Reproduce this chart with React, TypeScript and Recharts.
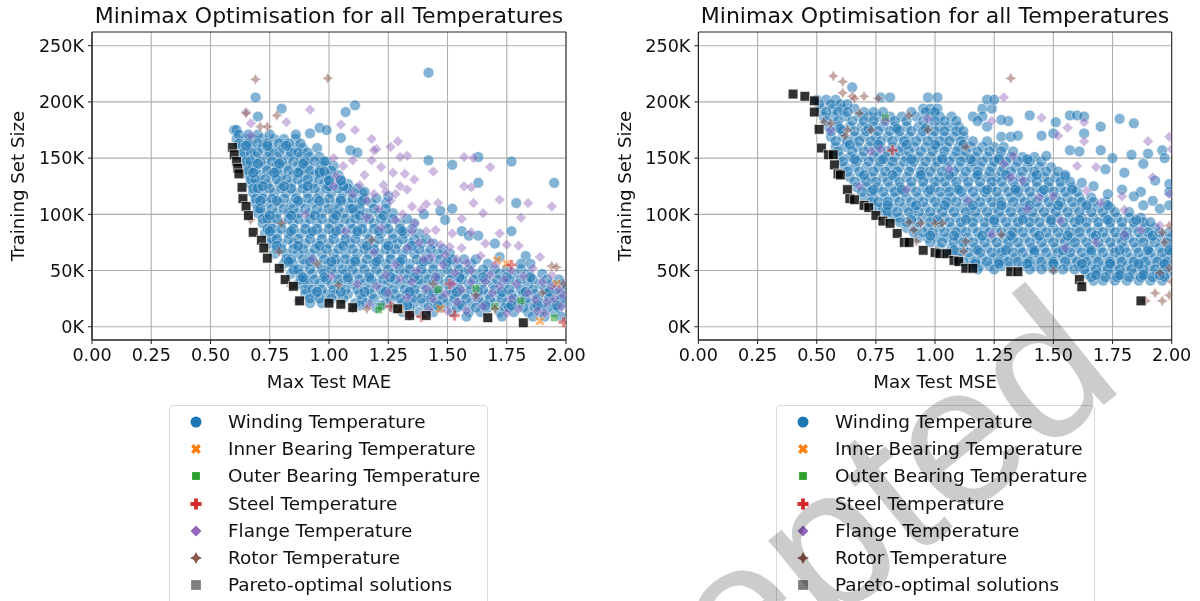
import { ScatterChart, Scatter, XAxis, YAxis, CartesianGrid, ReferenceArea } from 'recharts'

type Row = [number, number[]]
type Pt = [number, number]

const legendLabels = [
  'Winding Temperature',
  'Inner Bearing Temperature',
  'Outer Bearing Temperature',
  'Steel Temperature',
  'Flange Temperature',
  'Rotor Temperature',
  'Pareto-optimal solutions',
]
const xTicks = [0, 0.25, 0.5, 0.75, 1, 1.25, 1.5, 1.75, 2]
const yTicks = [0, 50, 100, 150, 200, 250]

// ---- left panel: MAE. rows are [training size in K, test errors read along that row]
const windingMaeRows: Row[] = [
  [175, [0.6, 0.61]],
  [167, [0.61, 0.65, 0.68, 0.72, 0.77, 0.81, 0.86]],
  [159, [0.63, 0.67, 0.72, 0.76, 0.81, 0.85, 0.89, 0.95]],
  [151, [0.64, 0.69, 0.74, 0.78, 0.83, 0.88, 0.92, 0.96]],
  [143, [0.65, 0.68, 0.73, 0.78, 0.82, 0.87, 0.91, 0.97, 1.02]],
  [135, [0.66, 0.71, 0.76, 0.8, 0.85, 0.9, 0.94, 0.99, 1.04]],
  [127, [0.67, 0.7, 0.74, 0.79, 0.84, 0.89, 0.93, 0.98, 1.03, 1.08]],
  [119, [0.68, 0.72, 0.77, 0.82, 0.86, 0.91, 0.96, 1.01, 1.06, 1.1, 1.14]],
  [110, [0.69, 0.74, 0.79, 0.84, 0.88, 0.93, 0.98, 1.03, 1.08, 1.13, 1.18, 1.24]],
  [101, [0.7, 0.73, 0.78, 0.83, 0.87, 0.92, 0.97, 1.02, 1.06, 1.11, 1.16, 1.21, 1.27]],
  [92, [0.72, 0.76, 0.8, 0.85, 0.9, 0.95, 1.0, 1.04, 1.09, 1.14, 1.19, 1.24, 1.3, 1.36]],
  [83, [0.73, 0.78, 0.83, 0.88, 0.92, 0.97, 1.02, 1.07, 1.12, 1.16, 1.22, 1.27, 1.32, 1.38]],
  [74, [0.75, 0.8, 0.85, 0.9, 0.95, 1.0, 1.05, 1.09, 1.14, 1.19, 1.24, 1.29, 1.34, 1.39, 1.44]],
  [65, [0.77, 0.82, 0.87, 0.92, 0.97, 1.02, 1.07, 1.12, 1.17, 1.21, 1.26, 1.31, 1.36, 1.41, 1.46, 1.51]],
  [56, [0.81, 0.85, 0.9, 0.95, 1.0, 1.04, 1.09, 1.14, 1.19, 1.24, 1.29, 1.34, 1.39, 1.44, 1.49, 1.54, 1.6, 1.67]],
  [47, [0.84, 0.88, 0.93, 0.98, 1.03, 1.07, 1.12, 1.17, 1.22, 1.27, 1.32, 1.37, 1.41, 1.47, 1.52, 1.57, 1.62, 1.67, 1.72, 1.78, 1.84, 1.9]],
  [38, [0.87, 0.91, 0.96, 1.01, 1.05, 1.1, 1.15, 1.2, 1.25, 1.3, 1.35, 1.39, 1.44, 1.49, 1.54, 1.59, 1.64, 1.69, 1.74, 1.79, 1.84, 1.89, 1.94, 1.99]],
  [29, [0.9, 0.94, 0.99, 1.03, 1.08, 1.13, 1.18, 1.23, 1.28, 1.33, 1.37, 1.42, 1.47, 1.52, 1.57, 1.62, 1.67, 1.72, 1.77, 1.82, 1.87, 1.92, 1.97]],
  [21, [0.92, 0.97, 1.11, 1.16, 1.24, 1.31, 1.36, 1.4, 1.45, 1.5, 1.55, 1.6, 1.65, 1.7, 1.75, 1.8, 1.85, 1.9, 1.95, 2.0]],
  [13, [1.31, 1.38, 1.44, 1.52, 1.59, 1.64, 1.72, 1.78, 1.84, 1.89, 1.95]],
]
const windingMaeFill: Row[] = [
  [171, [0.62, 0.66, 0.7, 0.75]],
  [163, [0.62, 0.66, 0.7, 0.74, 0.79, 0.83, 0.88]],
  [155, [0.64, 0.67, 0.7, 0.75, 0.79, 0.84, 0.87, 0.91]],
  [147, [0.65, 0.67, 0.71, 0.76, 0.8, 0.85, 0.9, 0.94, 0.99]],
  [139, [0.66, 0.69, 0.74, 0.78, 0.83, 0.88, 0.92, 0.96, 1.01]],
  [131, [0.67, 0.69, 0.73, 0.78, 0.82, 0.87, 0.91, 0.96, 1.0, 1.05]],
  [123, [0.68, 0.7, 0.75, 0.8, 0.84, 0.89, 0.94, 0.99, 1.04, 1.08, 1.12]],
  [114, [0.69, 0.72, 0.76, 0.81, 0.86, 0.91, 0.95, 1.0, 1.05, 1.1, 1.15, 1.2]],
  [105, [0.7, 0.71, 0.76, 0.81, 0.85, 0.9, 0.95, 1.0, 1.04, 1.09, 1.13, 1.19, 1.24]],
  [96, [0.72, 0.74, 0.78, 0.83, 0.87, 0.92, 0.97, 1.02, 1.07, 1.11, 1.17, 1.22, 1.27, 1.33]],
  [87, [0.74, 0.76, 0.8, 0.85, 0.9, 0.95, 1.0, 1.05, 1.1, 1.14, 1.19, 1.25, 1.3, 1.35]],
  [78, [0.76, 0.78, 0.83, 0.87, 0.92, 0.97, 1.02, 1.07, 1.11, 1.17, 1.21, 1.27, 1.31, 1.36, 1.41]],
  [69, [0.78, 0.8, 0.85, 0.89, 0.94, 0.99, 1.04, 1.1, 1.15, 1.19, 1.24, 1.28, 1.33, 1.38, 1.43, 1.48]],
  [60, [0.82, 0.84, 0.89, 0.93, 0.98, 1.03, 1.07, 1.11, 1.16, 1.21, 1.26, 1.31, 1.37, 1.42, 1.47, 1.52, 1.57, 1.62]],
  [51, [0.85, 0.87, 0.92, 0.97, 1.01, 1.06, 1.1, 1.15, 1.2, 1.25, 1.3, 1.34, 1.39, 1.44, 1.5, 1.55, 1.59, 1.65, 1.7, 1.75, 1.81]],
  [42, [0.88, 0.9, 0.94, 0.99, 1.04, 1.08, 1.13, 1.18, 1.23, 1.28, 1.33, 1.38, 1.42, 1.46, 1.51, 1.56, 1.61, 1.66, 1.71, 1.76, 1.81, 1.86, 1.92, 1.97]],
  [33, [0.9, 0.93, 0.97, 1.02, 1.07, 1.12, 1.17, 1.22, 1.27, 1.32, 1.36, 1.41, 1.46, 1.51, 1.55, 1.6, 1.65, 1.7, 1.76, 1.81, 1.86, 1.91, 1.96, 2.0]],
  [25, [0.92, 0.96, 1.01, 1.06, 1.14, 1.19, 1.26, 1.3, 1.35, 1.39, 1.43, 1.48, 1.53, 1.58, 1.63, 1.68, 1.73, 1.78, 1.83, 1.88, 1.93, 1.98]],
  [17, [1.2, 1.27, 1.34, 1.42, 1.47, 1.54, 1.62, 1.67, 1.74, 1.76, 1.82, 1.87, 1.92, 1.97]],
  [9, [1.58, 1.73, 1.86, 1.91, 1.98]],
]
const windingMaeCore: Row[] = [
  [161, [0.65, 0.74, 0.82]],
  [145, [0.7, 0.79, 0.89]],
  [137, [0.68, 0.77, 0.87, 0.96]],
  [125, [0.72, 0.81, 0.91, 1.0, 1.06]],
  [112, [0.71, 0.78, 0.87, 0.96, 1.05, 1.14]],
  [99, [0.75, 0.84, 0.94, 1.03, 1.13, 1.23]],
  [85, [0.75, 0.84, 0.93, 1.03, 1.12, 1.21, 1.31]],
  [72, [0.78, 0.87, 0.96, 1.06, 1.16, 1.25, 1.35]],
  [58, [0.83, 0.92, 1.01, 1.11, 1.2, 1.3, 1.4, 1.5]],
  [44, [0.89, 0.98, 1.08, 1.17, 1.26, 1.36, 1.45, 1.55, 1.65, 1.75, 1.85]],
  [31, [0.95, 1.05, 1.15, 1.24, 1.34, 1.44, 1.54, 1.63, 1.73, 1.83, 1.93]],
  [19, [1.13, 1.22, 1.33, 1.46, 1.56, 1.66, 1.77, 1.88, 1.96]],
]
const windingMaeOutliers: Pt[] = [
  [1.42, 226], [0.69, 204], [0.7, 187], [0.8, 194], [1.07, 191], [1.11, 197], [0.96, 177], [0.92, 172],
  [0.99, 175], [0.86, 171], [1.05, 168], [1.09, 157], [1.12, 155], [1.42, 148], [1.52, 144], [1.63, 151],
  [1.77, 147], [1.63, 128], [1.95, 128], [1.79, 110], [1.52, 105], [1.47, 103], [1.49, 95], [1.56, 85],
  [1.77, 85], [1.59, 81], [1.63, 81], [1.7, 74], [1.72, 62], [1.83, 63], [1.81, 56], [1.85, 56],
  [0.98, 147], [0.98, 138], [1.0, 130], [1.05, 130], [1.15, 120], [1.25, 116], [1.1, 105], [1.4, 100],
]
const innerMae: Pt[] = [[1.47, 16], [1.71, 59], [1.3, 15], [1.89, 5], [1.96, 38], [1.75, 56]]
const outerMae: Pt[] = [[1.46, 33], [1.62, 34], [1.81, 23], [1.95, 8], [1.22, 18], [1.21, 15], [1.7, 18]]
const steelMae: Pt[] = [[1.34, 10], [1.99, 4], [1.51, 38], [1.77, 55], [1.39, 9], [1.53, 10], [1.26, 18]]
const flangeMae: Pt[] = [
  [0.92, 193], [0.65, 191], [0.67, 181], [0.82, 182], [1.05, 180], [1.11, 175], [0.67, 170], [1.18, 167],
  [1.2, 158], [1.19, 157], [1.29, 165], [1.26, 160], [1.33, 152], [1.3, 151], [1.57, 151], [1.61, 150],
  [1.68, 142], [1.44, 138], [1.02, 150], [1.06, 143], [1.1, 148], [1.18, 148], [1.22, 142], [1.27, 137],
  [1.32, 136], [1.36, 131], [1.3, 125], [1.33, 122], [1.23, 126], [1.19, 118], [1.13, 126], [1.03, 134],
  [1.57, 125], [1.6, 124], [1.72, 113], [1.61, 110], [1.84, 110], [1.94, 107], [1.65, 101], [1.81, 97],
  [1.41, 109], [1.46, 110], [1.26, 112], [1.35, 107], [1.39, 104], [1.1, 118], [1.45, 86], [1.52, 83],
  [1.56, 96], [1.6, 84], [1.72, 83], [1.75, 73], [1.66, 74], [1.51, 71], [1.47, 73], [1.8, 72], [1.89, 62],
  [1.64, 63], [1.54, 60], [1.43, 62], [1.38, 75], [1.33, 70], [1.22, 88], [1.16, 97], [1.07, 85], [0.93, 60],
  [0.9, 100], [1.19, 66], [1.28, 55], [1.37, 50], [1.45, 44], [1.53, 48], [1.6, 50], [1.68, 46], [1.74, 42],
  [1.82, 45], [1.9, 40], [1.97, 33], [1.12, 38], [1.25, 30], [1.33, 26], [1.41, 34], [1.49, 29], [1.56, 33],
  [1.62, 26], [1.69, 30], [1.77, 25], [1.84, 30], [1.92, 22], [1.98, 18], [1.01, 45], [1.17, 20], [1.42, 15],
  [1.58, 14], [1.75, 12], [1.88, 14], [1.95, 25], [1.66, 40], [1.3, 43], [1.5, 14], [0.87, 23],
  [1.4, 60], [1.48, 55], [1.58, 57], [1.7, 55], [1.77, 50], [1.86, 52], [1.94, 46], [1.35, 40], [1.44, 25],
  [1.52, 38], [1.6, 40], [1.72, 36], [1.79, 38], [1.87, 24], [1.94, 36], [1.99, 28], [1.24, 46], [1.2, 36],
  [1.54, 22], [1.65, 18], [1.8, 16], [1.91, 12], [1.35, 85], [1.28, 95], [1.43, 75], [1.15, 135], [1.24, 120],
  [1.28, 118], [1.16, 112], [1.21, 105], [1.31, 100], [1.36, 92], [1.41, 85], [1.49, 64], [1.56, 70], [1.02, 125],
]
const rotorMae: Pt[] = [
  [0.69, 220], [0.995, 221], [0.65, 190], [0.78, 188], [0.71, 178], [0.74, 178], [0.8, 92], [0.67, 95],
  [1.18, 77], [1.04, 37], [0.84, 36], [0.79, 67], [1.94, 54], [1.96, 53], [1.1, 16], [1.16, 16], [1.27, 18],
  [1.44, 38], [1.62, 28], [1.7, 16], [1.9, 30], [1.99, 38], [0.95, 56],
]
const paretoMae: Pt[] = [
  [0.593, 159.5], [0.6, 153], [0.61, 147], [0.615, 141], [0.62, 136], [0.633, 124], [0.637, 114], [0.65, 107],
  [0.66, 99], [0.68, 84], [0.715, 77], [0.725, 70], [0.74, 61], [0.79, 52], [0.815, 42], [0.85, 36], [0.876, 23],
  [1.0, 21], [1.05, 20], [1.1, 17], [1.29, 16], [1.34, 10], [1.41, 10], [1.67, 8], [1.82, 3.5],
]

// ---- right panel: MSE
const windingMseRows: Row[] = [
  [202, [0.5, 0.54, 0.58]],
  [194, [0.52, 0.57, 0.61, 0.66, 0.95, 0.98, 1.01, 1.2, 1.24]],
  [187, [0.53, 0.57, 0.62, 0.68, 0.72, 0.76, 0.81, 0.86, 0.92, 0.98, 1.02, 1.07, 1.16, 1.2]],
  [178, [0.55, 0.59, 0.64, 0.69, 0.74, 0.78, 0.83, 0.88, 0.93, 0.97, 1.02, 1.06, 1.1, 1.22]],
  [169, [0.56, 0.61, 0.66, 0.7, 0.75, 0.8, 0.85, 0.89, 0.94, 0.99, 1.04, 1.08, 1.12, 1.28, 1.32]],
  [160, [0.58, 0.62, 0.67, 0.72, 0.77, 0.82, 0.86, 0.91, 0.96, 1.01, 1.05, 1.1, 1.15, 1.2, 1.25, 1.29]],
  [151, [0.6, 0.64, 0.69, 0.74, 0.79, 0.83, 0.88, 0.93, 0.98, 1.03, 1.08, 1.12, 1.17, 1.22, 1.27, 1.32, 1.37, 1.42]],
  [142, [0.62, 0.66, 0.71, 0.76, 0.81, 0.85, 0.9, 0.95, 1.0, 1.05, 1.1, 1.15, 1.19, 1.24, 1.29, 1.34, 1.39, 1.44, 1.49]],
  [133, [0.64, 0.69, 0.73, 0.78, 0.83, 0.88, 0.93, 0.97, 1.02, 1.07, 1.12, 1.17, 1.22, 1.26, 1.31, 1.36, 1.41, 1.46, 1.51, 1.55]],
  [124, [0.67, 0.71, 0.76, 0.81, 0.85, 0.9, 0.95, 1.0, 1.05, 1.09, 1.14, 1.19, 1.24, 1.29, 1.34, 1.38, 1.43, 1.48, 1.53, 1.58]],
  [115, [0.7, 0.74, 0.79, 0.83, 0.88, 0.93, 0.98, 1.03, 1.07, 1.12, 1.17, 1.22, 1.27, 1.32, 1.36, 1.41, 1.46, 1.51, 1.56, 1.61, 1.66]],
  [106, [0.75, 0.78, 0.82, 0.87, 0.91, 0.96, 1.01, 1.06, 1.11, 1.15, 1.2, 1.25, 1.3, 1.35, 1.39, 1.44, 1.49, 1.54, 1.59, 1.64, 1.69, 1.74]],
  [97, [0.82, 0.85, 0.9, 0.95, 0.99, 1.04, 1.09, 1.14, 1.18, 1.23, 1.28, 1.33, 1.38, 1.42, 1.47, 1.52, 1.57, 1.62, 1.67, 1.72, 1.77, 1.82, 1.87]],
  [88, [0.88, 0.92, 0.97, 1.02, 1.07, 1.11, 1.16, 1.21, 1.26, 1.31, 1.35, 1.4, 1.45, 1.5, 1.55, 1.6, 1.64, 1.69, 1.74, 1.79, 1.84, 1.89, 1.93]],
  [79, [0.93, 0.97, 1.01, 1.05, 1.1, 1.14, 1.19, 1.24, 1.29, 1.33, 1.38, 1.43, 1.48, 1.53, 1.58, 1.62, 1.67, 1.72, 1.77, 1.82, 1.87, 1.91, 1.96, 2.0]],
  [70, [1.02, 1.07, 1.12, 1.17, 1.22, 1.27, 1.31, 1.36, 1.41, 1.46, 1.51, 1.56, 1.6, 1.65, 1.7, 1.75, 1.8, 1.85, 1.9, 1.95, 1.99]],
  [61, [1.1, 1.15, 1.2, 1.25, 1.29, 1.34, 1.39, 1.44, 1.49, 1.54, 1.58, 1.63, 1.68, 1.73, 1.78, 1.83, 1.88, 1.93, 1.97]],
  [54, [1.15, 1.19, 1.23, 1.28, 1.32, 1.37, 1.42, 1.47, 1.51, 1.56, 1.61, 1.66, 1.71, 1.76, 1.81, 1.86, 1.91, 1.96, 2.0]],
  [47, [1.64, 1.69, 1.74, 1.79, 1.84, 1.89, 1.94, 1.98]],
  [41, [1.67, 1.71, 1.76, 1.81, 1.86, 1.91, 1.96]],
]
const windingMseFill: Row[] = [
  [198, [0.51, 0.56, 0.6, 0.63]],
  [191, [0.54, 0.59, 0.63, 0.7, 0.74, 0.78, 0.9, 0.96, 1.0]],
  [183, [0.54, 0.59, 0.65, 0.7, 0.74, 0.79, 0.83, 0.88, 0.95, 1.0, 1.04, 1.09, 1.18]],
  [174, [0.56, 0.61, 0.66, 0.71, 0.76, 0.81, 0.85, 0.9, 0.95, 1.0, 1.04, 1.09, 1.12]],
  [165, [0.58, 0.63, 0.68, 0.73, 0.77, 0.82, 0.87, 0.92, 0.97, 1.02, 1.06, 1.11, 1.16, 1.22]],
  [156, [0.59, 0.65, 0.7, 0.75, 0.8, 0.85, 0.89, 0.94, 0.99, 1.04, 1.09, 1.13, 1.18, 1.23, 1.28, 1.33]],
  [147, [0.61, 0.67, 0.72, 0.77, 0.82, 0.87, 0.91, 0.96, 1.01, 1.06, 1.11, 1.16, 1.2, 1.25, 1.3, 1.35, 1.4, 1.45]],
  [138, [0.63, 0.68, 0.74, 0.79, 0.84, 0.89, 0.94, 0.98, 1.03, 1.08, 1.13, 1.18, 1.23, 1.28, 1.32, 1.37, 1.42, 1.47, 1.52]],
  [129, [0.66, 0.71, 0.75, 0.8, 0.85, 0.9, 0.95, 1.0, 1.04, 1.09, 1.14, 1.19, 1.24, 1.28, 1.33, 1.38, 1.43, 1.48, 1.53, 1.57]],
  [120, [0.69, 0.73, 0.78, 0.83, 0.87, 0.92, 0.97, 1.02, 1.06, 1.11, 1.16, 1.21, 1.26, 1.31, 1.35, 1.4, 1.45, 1.5, 1.55, 1.6]],
  [111, [0.73, 0.76, 0.8, 0.85, 0.9, 0.95, 1.0, 1.05, 1.09, 1.14, 1.19, 1.24, 1.28, 1.33, 1.38, 1.43, 1.48, 1.53, 1.58, 1.62, 1.67, 1.72]],
  [102, [0.79, 0.8, 0.84, 0.89, 0.93, 0.98, 1.03, 1.08, 1.13, 1.17, 1.22, 1.27, 1.32, 1.37, 1.41, 1.46, 1.51, 1.56, 1.61, 1.66, 1.71, 1.76, 1.82]],
  [93, [0.85, 0.88, 0.93, 0.98, 1.02, 1.06, 1.11, 1.16, 1.21, 1.25, 1.3, 1.35, 1.4, 1.44, 1.49, 1.54, 1.59, 1.64, 1.69, 1.74, 1.79, 1.84, 1.88, 1.91]],
  [84, [0.91, 0.95, 0.99, 1.04, 1.09, 1.13, 1.18, 1.23, 1.28, 1.33, 1.37, 1.42, 1.47, 1.52, 1.57, 1.61, 1.66, 1.71, 1.76, 1.81, 1.86, 1.9, 1.95, 1.99]],
  [75, [0.98, 1.03, 1.08, 1.12, 1.16, 1.21, 1.26, 1.31, 1.35, 1.4, 1.45, 1.5, 1.55, 1.59, 1.64, 1.69, 1.74, 1.79, 1.84, 1.88, 1.93, 1.98]],
  [66, [1.06, 1.1, 1.14, 1.19, 1.24, 1.28, 1.33, 1.37, 1.42, 1.47, 1.52, 1.57, 1.62, 1.66, 1.71, 1.76, 1.81, 1.86, 1.91, 1.96, 2.0]],
  [58, [1.12, 1.17, 1.22, 1.27, 1.31, 1.35, 1.4, 1.45, 1.5, 1.55, 1.6, 1.64, 1.69, 1.74, 1.79, 1.84, 1.89, 1.94, 1.98]],
  [51, [1.18, 1.25, 1.4, 1.45, 1.5, 1.54, 1.59, 1.63, 1.68, 1.73, 1.78, 1.83, 1.88, 1.93, 1.97]],
  [44, [1.66, 1.72, 1.77, 1.82, 1.87, 1.92, 1.97]],
]
const windingMseCore: Row[] = [
  [176, [0.6, 0.72, 0.84, 0.96]],
  [162, [0.64, 0.76, 0.88, 1.0, 1.12]],
  [149, [0.66, 0.78, 0.9, 1.03, 1.15, 1.27, 1.39]],
  [135, [0.7, 0.82, 0.94, 1.06, 1.18, 1.3, 1.43]],
  [122, [0.74, 0.86, 0.98, 1.1, 1.22, 1.34, 1.46, 1.58]],
  [108, [0.8, 0.92, 1.04, 1.16, 1.28, 1.4, 1.52, 1.64, 1.73]],
  [95, [0.9, 1.01, 1.13, 1.25, 1.37, 1.49, 1.61, 1.73, 1.85]],
  [81, [0.98, 1.08, 1.2, 1.32, 1.44, 1.56, 1.68, 1.8, 1.92]],
  [68, [1.08, 1.18, 1.3, 1.42, 1.54, 1.66, 1.78, 1.9, 1.99]],
  [56, [1.17, 1.27, 1.39, 1.5, 1.62, 1.74, 1.86, 1.97]],
  [46, [1.68, 1.78, 1.88, 1.95]],
]
const windingMseOutliers: Pt[] = [
  [0.65, 213], [0.77, 204], [0.81, 204], [0.97, 204], [1.01, 204], [1.22, 202], [1.25, 202], [1.4, 188],
  [1.57, 188], [1.6, 188], [1.63, 187], [1.78, 185], [1.84, 181], [1.51, 182], [1.31, 183], [1.28, 184],
  [1.7, 178], [1.5, 172], [1.63, 172], [1.96, 157], [1.9, 154], [1.7, 157], [1.75, 150], [1.83, 153],
  [1.57, 157], [1.61, 156], [1.47, 152], [1.88, 145], [1.97, 150], [1.8, 137], [1.72, 140], [1.62, 128],
  [1.55, 135], [1.67, 125], [1.73, 118], [1.87, 120], [1.93, 130], [1.99, 127], [1.79, 122], [1.84, 116],
  [1.99, 120], [1.95, 105], [1.99, 108], [1.92, 112], [1.88, 108], [1.45, 170], [1.35, 170],
]
const innerMse: Pt[] = []
const outerMse: Pt[] = [[0.79, 186]]
const steelMse: Pt[] = [[0.82, 157]]
const flangeMse: Pt[] = [
  [1.29, 204], [1.45, 186], [1.24, 183], [1.63, 182], [1.56, 177], [1.52, 170], [1.63, 165], [1.9, 165],
  [1.99, 169], [2.0, 158], [0.97, 185], [0.56, 175], [0.73, 156], [1.29, 145], [1.33, 152], [1.68, 142],
  [1.6, 143], [0.79, 183], [0.77, 158], [1.06, 140], [1.32, 133], [1.37, 130], [1.92, 133], [1.64, 121],
  [0.88, 122], [0.68, 125], [1.14, 112], [1.44, 115], [1.5, 116], [1.79, 116], [1.99, 118], [1.39, 105],
  [1.53, 94], [1.8, 104], [1.87, 86], [1.68, 75], [1.8, 82], [1.55, 70], [1.95, 90], [1.7, 110], [1.24, 82],
]
const rotorMse: Pt[] = [
  [0.57, 223], [0.61, 218], [0.61, 208], [0.65, 205], [0.66, 203], [0.7, 205], [0.76, 203], [0.68, 190],
  [0.89, 188], [0.53, 182], [0.56, 181], [0.63, 175], [0.97, 175], [0.73, 175], [1.13, 160], [1.32, 221],
  [0.89, 93], [0.94, 92], [1.0, 92], [0.92, 76], [1.12, 67], [1.03, 92], [1.13, 76], [1.28, 82], [0.91, 86],
  [1.99, 90], [1.96, 84], [1.97, 75], [1.93, 30], [1.96, 23], [1.89, 23], [1.99, 28], [2.0, 40], [1.95, 48],
  [1.99, 52], [1.5, 50], [0.62, 170],
]
const paretoMse: Pt[] = [
  [0.4, 207], [0.45, 205], [0.49, 201], [0.49, 191], [0.51, 175.6], [0.52, 159], [0.55, 153], [0.57, 153],
  [0.575, 144], [0.59, 136], [0.6, 135], [0.63, 122], [0.64, 114], [0.66, 113], [0.7, 108], [0.72, 106],
  [0.75, 99], [0.78, 94], [0.81, 92], [0.84, 83], [0.87, 75], [0.89, 75], [0.95, 68], [1.0, 66], [1.02, 65],
  [1.05, 65], [1.08, 59], [1.1, 58], [1.13, 52], [1.16, 52], [1.32, 49], [1.35, 49], [1.61, 42], [1.62, 35.6],
  [1.87, 23],
]

const flatten = (rows: Row[]) => rows.flatMap(([y, xs]) => xs.map(x => ({ x, y })))
const toPoints = (pts: Pt[]) => pts.map(([x, y]) => ({ x, y }))

const colors = ['#1f77b4', '#ff7f0e', '#2ca02c', '#d62728', '#9467bd', '#8c564b', '#000000']

// seaborn's default marker cycle, centred on 0,0
const markerPaths = [
  'M-5.5 0a5.5 5.5 0 1 0 11 0a5.5 5.5 0 1 0 -11 0Z',
  'M-5 -2.5L-2.5 -5L0 -2.5L2.5 -5L5 -2.5L2.5 0L5 2.5L2.5 5L0 2.5L-2.5 5L-5 2.5L-2.5 0Z',
  'M-3.9 -3.9H3.9V3.9H-3.9Z',
  'M-1.9 -5.5H1.9V-1.9H5.5V1.9H1.9V5.5H-1.9V1.9H-5.5V-1.9H-1.9Z',
  'M0 -5.5L5.5 0L0 5.5L-5.5 0Z',
  'M0 -6L2.1 -2.1L6 0L2.1 2.1L0 6L-2.1 2.1L-6 0L-2.1 -2.1Z',
  'M-4.9 -4.9H4.9V4.9H-4.9Z',
]
const alphas = [0.55, 0.55, 0.55, 0.55, 0.45, 0.5, 0.8]

const marker = (i: number) => (props: { cx?: number; cy?: number }) => (
  <path
    d={markerPaths[i]}
    transform={`translate(${props.cx},${props.cy})`}
    fill={colors[i]}
    stroke="#ffffff"
    strokeWidth={0.7}
    opacity={alphas[i]}
  />
)

const fontFamily = '"DejaVu Sans", sans-serif'
const textColor = '#111'

function Panel({ xLabel, series, left, marginLeft, marginRight }: {
  xLabel: string
  series: { x: number; y: number }[][]
  left: number
  marginLeft: number
  marginRight: number
}) {
  const plotCenter = marginLeft + 60 + (600 - marginLeft - 60 - marginRight) / 2
  return (
    <div style={{ position: 'absolute', left, top: 0 }}>
      <ScatterChart width={600} height={601} margin={{ top: 32, right: marginRight, bottom: 231, left: marginLeft }}>
        <CartesianGrid stroke="#b0b0b0" strokeWidth={1.1} horizontalValues={yTicks} verticalValues={xTicks} />
        <XAxis
          type="number"
          dataKey="x"
          domain={[0, 2]}
          ticks={xTicks}
          allowDataOverflow
          interval={0}
          tickFormatter={(v: number) => v.toFixed(2)}
          tick={{ fontSize: 17.6, fill: textColor, fontFamily }}
          tickSize={4}
          tickMargin={5}
          stroke="#222"
          height={30}
        />
        <YAxis
          type="number"
          dataKey="y"
          domain={[-11.8, 262.2]}
          ticks={yTicks}
          allowDataOverflow
          interval={0}
          tickFormatter={(v: number) => `${v}K`}
          tick={{ fontSize: 17.6, fill: textColor, fontFamily }}
          tickSize={4}
          tickMargin={4}
          stroke="#222"
          width={60}
        />
        {series.map((data, i) => (
          <Scatter
            key={legendLabels[i]}
            name={legendLabels[i]}
            data={data}
            shape={marker(i)}
            isAnimationActive={false}
          />
        ))}
        <ReferenceArea x1={0} x2={2} y1={-11.8} y2={262.2} fill="none" stroke="#222" strokeWidth={1} fillOpacity={0} />
        <text x={plotCenter} y={23} textAnchor="middle" fontSize={22} fill={textColor} fontFamily={fontFamily}>
          Minimax Optimisation for all Temperatures
        </text>
        <text x={plotCenter} y={388} textAnchor="middle" fontSize={18.2} fill={textColor} fontFamily={fontFamily}>
          {xLabel}
        </text>
        <text
          transform="translate(24,186) rotate(-90)"
          textAnchor="middle"
          fontSize={18.2}
          fill={textColor}
          fontFamily={fontFamily}
        >
          Training Set Size
        </text>
      </ScatterChart>
    </div>
  )
}

function LegendBox({ left }: { left: number }) {
  return (
    <div
      style={{
        position: 'absolute',
        left,
        top: 405,
        width: 319,
        height: 210,
        boxSizing: 'border-box',
        border: '1.5px solid #d8d8d8',
        borderRadius: 4,
        background: 'rgba(255,255,255,0.8)',
      }}
    >
      {legendLabels.map((label, i) => (
        <div key={label} style={{ position: 'absolute', top: 2 + i * 27.2, left: 0, height: 27, lineHeight: '27px', whiteSpace: 'nowrap' }}>
          <svg width={14} height={14} viewBox="-7 -7 14 14" style={{ position: 'absolute', left: 19, top: 7 }}>
            <path d={markerPaths[i]} fill={colors[i]} opacity={i === 6 ? 0.5 : 1} />
          </svg>
          <span style={{ position: 'absolute', left: 58, fontSize: 18.45, color: textColor, fontFamily }}>{label}</span>
        </div>
      ))}
    </div>
  )
}

export default function App() {
  const maeSeries = [
    [...flatten(windingMaeRows), ...flatten(windingMaeFill), ...flatten(windingMaeCore), ...toPoints(windingMaeOutliers)],
    toPoints(innerMae),
    toPoints(outerMae),
    toPoints(steelMae),
    toPoints(flangeMae),
    toPoints(rotorMae),
    toPoints(paretoMae),
  ]
  const mseSeries = [
    [...flatten(windingMseRows), ...flatten(windingMseFill), ...flatten(windingMseCore), ...toPoints(windingMseOutliers)],
    toPoints(innerMse),
    toPoints(outerMse),
    toPoints(steelMse),
    toPoints(flangeMse),
    toPoints(rotorMse),
    toPoints(paretoMse),
  ]
  return (
    <div style={{ position: 'absolute', left: 0, top: 0, width: 1200, height: 601, overflow: 'hidden', background: '#fff', filter: 'blur(0.4px)' }}>
      <Panel xLabel="Max Test MAE" series={maeSeries} left={0} marginLeft={32} marginRight={34} />
      <Panel xLabel="Max Test MSE" series={mseSeries} left={607} marginLeft={31.4} marginRight={35.3} />
      <LegendBox left={169} />
      <LegendBox left={776} />
      {/* diagonal watermark laid over the page */}
      <svg width={1200} height={601} style={{ position: 'absolute', left: 0, top: 0, mixBlendMode: 'multiply', pointerEvents: 'none' }}>
        <text
          transform="translate(1127,386) rotate(-39)"
          textAnchor="end"
          fontSize={200}
          fill="#cccccc"
          fontFamily='"Liberation Sans", sans-serif'
        >
          Accepted
        </text>
      </svg>
    </div>
  )
}
